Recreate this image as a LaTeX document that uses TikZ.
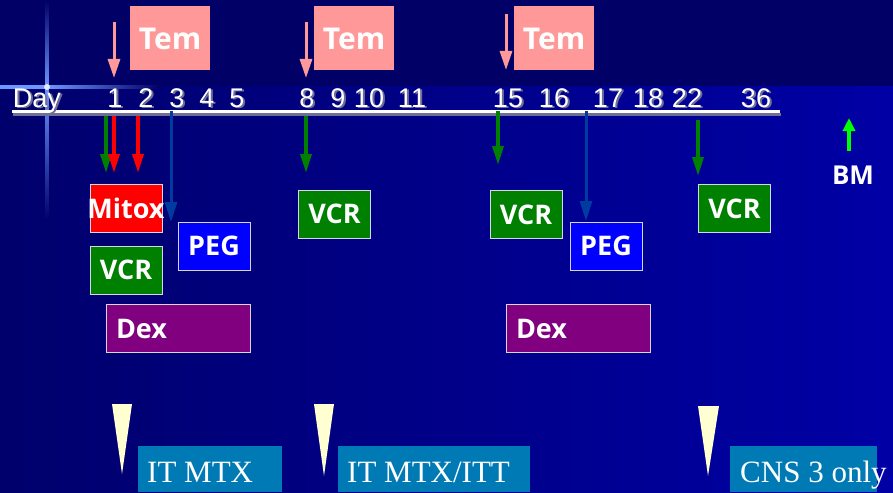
\documentclass[tikz,border=0pt]{standalone}
\usepackage{fontspec}
\setmainfont{Liberation Serif}
\newfontfamily\boxfont{Open Sans}
\newfontfamily\dayfont{Liberation Sans}
\usetikzlibrary{arrows.meta}
\definecolor{bgtop}{RGB}{0,0,102}
\definecolor{bgleft}{RGB}{0,0,108}
\definecolor{bgright}{RGB}{0,0,165}
\definecolor{salmon}{RGB}{255,153,153}
\definecolor{dgreen}{RGB}{0,128,0}
\definecolor{pegblue}{RGB}{0,0,255}
\definecolor{darr}{RGB}{0,60,160}
\definecolor{dexpurple}{RGB}{128,0,128}
\definecolor{teal2}{RGB}{0,122,180}
\definecolor{lyellow}{RGB}{255,255,210}
\definecolor{bmgreen}{RGB}{0,255,0}
\definecolor{boxedge}{RGB}{215,215,225}
\definecolor{glow}{RGB}{110,150,255}
\definecolor{shad}{RGB}{110,110,150}
\begin{document}
\begin{tikzpicture}[x=1pt,y=-1pt,
  drugbox/.style={draw=boxedge, line width=0.8pt, text=white, inner sep=0pt,
    font=\boxfont\bfseries\fontsize{27}{30}\selectfont},
  tembox/.style={fill=salmon, minimum width=80pt, minimum height=64pt, inner sep=0pt},
  temtext/.style={text=white, font=\boxfont\bfseries\fontsize{30}{32}\selectfont, anchor=base, inner sep=0pt},
  daytext/.style={text=white, font=\dayfont\fontsize{27}{30}\selectfont, anchor=base, inner sep=0pt},
  dayshadow/.style={text=shad, font=\dayfont\fontsize{27}{30}\selectfont, anchor=base, inner sep=0pt},
  itbox/.style={fill=teal2, anchor=north west, inner sep=0pt},
  ittext/.style={text=white, font=\fontsize{31}{33}\selectfont, anchor=base west, inner sep=0pt},
  arr/.style={line width=3.5pt, -{Triangle[width=11pt,length=19pt]}},
  temarr/.style={arr, draw=salmon, line width=3pt, -{Triangle[width=12pt,length=19pt]}},
  wedge/.style={fill=lyellow}
]
\useasboundingbox (0,0) rectangle (893,492);
% background
\shade[left color=bgleft, right color=bgright] (0,86) rectangle (893,492);
\fill[bgtop] (0,0) rectangle (893,86);
% sparkle
\shade[top color=bgtop, bottom color=glow] (45.5,0) rectangle (48.5,87);
\shade[top color=glow, bottom color=bgleft] (45.5,87) rectangle (48.5,220);
\shade[left color=glow, right color=glow] (0,85.5) rectangle (47,88.5);
\shade[left color=glow, right color=bgtop] (47,85.5) rectangle (160,88.5);
\fill[white, opacity=0.8] (47,87) circle (3);

% timeline
\coordinate (tlA) at (12,112);
\coordinate (tlB) at (780,112);
\fill[shad] (13,113) rectangle (781,116);
\draw[white, line width=3pt] (tlA) -- (tlB);

% day labels (shadow then text)
\foreach \t/\x in {Day/37, 1/115, 2/146, 3/177, 4/207, 5/237, 8/307, 9/338, 10/369, 11/412, 15/508, 16/554, 17/608, 18/648, 22/687, 36/756} {
  \node[dayshadow] (s\t) at (\x+2,109) {\t};
  \node[daytext] (d\t) at (\x,107) {\t};
}

% Tem boxes
\node[tembox] (tem1) at (170,38) {};
\node[temtext] (tem1t) at (170,50) {Tem};
\node[tembox] (tem2) at (354,38) {};
\node[temtext] (tem2t) at (354,50) {Tem};
\node[tembox] (tem3) at (554,38) {};
\node[temtext] (tem3t) at (554,50) {Tem};
\coordinate (ta1) at (114,22); \coordinate (tb1) at (114,78);
\coordinate (ta2) at (306,22); \coordinate (tb2) at (306,78);
\coordinate (ta3) at (506,14); \coordinate (tb3) at (506,70);
\draw[temarr] (ta1) -- (tb1);
\draw[temarr] (ta2) -- (tb2);
\draw[temarr] (ta3) -- (tb3);

% drug boxes
\node[drugbox, fill=red, minimum width=72pt, minimum height=48pt] (mitox) at (126,208.5) {\makebox[72pt]{Mitox}};
\node[drugbox, fill=dgreen, minimum width=72pt, minimum height=48pt] (vcr1) at (126,270) {VCR};
\node[drugbox, fill=pegblue, minimum width=72pt, minimum height=48pt] (peg1) at (214,246) {PEG};
\node[drugbox, fill=dexpurple, minimum width=144pt, minimum height=48pt, text width=124pt, align=left, inner xsep=10pt] (dex1) at (178,328.5) {Dex};
\node[drugbox, fill=dgreen, minimum width=72pt, minimum height=48pt] (vcr2) at (334.5,214) {VCR};
\node[drugbox, fill=dgreen, minimum width=72pt, minimum height=48pt] (vcr3) at (526,214.5) {VCR};
\node[drugbox, fill=pegblue, minimum width=72pt, minimum height=48pt] (peg2) at (606,246) {PEG};
\node[drugbox, fill=dexpurple, minimum width=144pt, minimum height=48pt, text width=124pt, align=left, inner xsep=10pt] (dex2) at (578,328.5) {Dex};
\node[drugbox, fill=dgreen, minimum width=72pt, minimum height=48pt] (vcr4) at (734.5,208.5) {VCR};
\node[text=white, font=\boxfont\bfseries\fontsize{26}{28}\selectfont, inner sep=0pt] (bm) at (853,175) {BM};

% drug arrows
\coordinate (g1a) at (106,116); \coordinate (g1b) at (106,173);
\coordinate (r1a) at (114,116); \coordinate (r1b) at (114,173);
\coordinate (r2a) at (138,116); \coordinate (r2b) at (138,173);
\coordinate (p1a) at (171,111); \coordinate (p1b) at (171,222);
\coordinate (g2a) at (306,116); \coordinate (g2b) at (306,173);
\coordinate (g3a) at (498,111); \coordinate (g3b) at (498,165);
\coordinate (p2a) at (586,111); \coordinate (p2b) at (586,221);
\coordinate (g4a) at (698,120); \coordinate (g4b) at (698,176);
\coordinate (bma) at (849,151); \coordinate (bmb) at (849,118);
\draw[arr, draw=dgreen, fill=dgreen] (g1a) -- (g1b);
\draw[arr, draw=red, fill=red] (r1a) -- (r1b);
\draw[arr, draw=red, fill=red] (r2a) -- (r2b);
\draw[arr, draw=darr, line width=3pt, -{Triangle[width=12pt,length=20pt]}] (p1a) -- (p1b);
\draw[arr, draw=dgreen] (g2a) -- (g2b);
\draw[arr, draw=dgreen] (g3a) -- (g3b);
\draw[arr, draw=darr, line width=3pt, -{Triangle[width=12pt,length=20pt]}] (p2a) -- (p2b);
\draw[arr, draw=dgreen] (g4a) -- (g4b);
\draw[draw=bmgreen, line width=3.5pt, -{Triangle[width=12pt,length=13pt]}] (bma) -- (bmb);

% intrathecal wedges
\fill[wedge] (112,404) -- (132,404) -- (122,474) -- cycle;
\fill[wedge] (314,404) -- (334,404) -- (324,476) -- cycle;
\fill[wedge] (698,406) -- (719,406) -- (708,476) -- cycle;

% IT boxes
\node[itbox, minimum width=144pt, minimum height=46pt] (it1) at (138,446) {};
\node[ittext] (it1t) at (147,482) {IT MTX};
\node[itbox, minimum width=192pt, minimum height=46pt] (it2) at (338,446) {};
\node[ittext] (it2t) at (347,482) {IT MTX/ITT};
\node[itbox, minimum width=147pt, minimum height=46pt] (it3) at (730,446) {};
\node[ittext] (it3t) at (740,482) {CNS 3 only};
\end{tikzpicture}
\end{document}
